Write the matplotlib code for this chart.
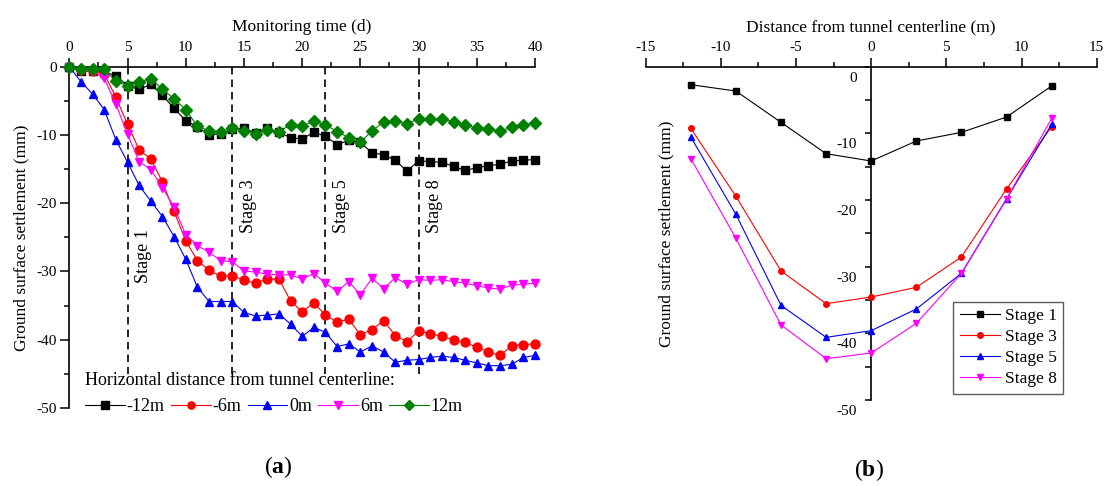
import matplotlib
matplotlib.use("Agg")
import matplotlib.pyplot as plt
from matplotlib.ticker import MultipleLocator
from matplotlib.transforms import ScaledTranslation

plt.rcParams["font.family"] = ["Liberation Serif", "DejaVu Serif"]
plt.rcParams["axes.unicode_minus"] = False
plt.rcParams["mathtext.fontset"] = "custom"
plt.rcParams["mathtext.rm"] = "Liberation Serif"
plt.rcParams["mathtext.bf"] = "Liberation Serif:bold"

# (a) settlement vs monitoring time, one series per horizontal distance
days = list(range(41))
settle_m12 = [0, -0.7, -0.6, -0.8, -1.3, -2.8, -3.3, -2.6, -4.2, -6.1, -7.9, -8.8, -10.0, -9.8,
              -9.2, -9.0, -9.7, -9.0, -9.6, -10.4, -10.6, -9.6, -10.2, -11.4, -10.8, -11.1, -12.6,
              -12.9, -13.7, -15.3, -13.8, -13.9, -14.0, -14.6, -15.2, -14.8, -14.5, -14.3, -13.8,
              -13.7, -13.6]
settle_m6 = [0, -0.5, -0.6, -1.0, -4.5, -8.4, -12.2, -13.5, -16.9, -21.2, -25.5, -28.4, -29.8,
             -30.7, -30.6, -31.3, -31.7, -31.1, -31.1, -34.3, -35.9, -34.6, -36.4, -37.4, -37.0,
             -39.3, -38.5, -37.2, -39.4, -40.3, -38.7, -39.1, -39.5, -40.0, -40.4, -41.1, -41.8,
             -42.3, -40.9, -40.7, -40.6]
settle_0 = [0, -2.2, -4.0, -6.3, -10.7, -14.0, -17.4, -19.7, -21.95, -24.9, -28.2, -32.3, -34.4,
            -34.4, -34.4, -36.0, -36.5, -36.4, -36.2, -37.7, -39.5, -38.2, -38.9, -41.0, -40.6,
            -41.8, -40.9, -41.8, -43.3, -43.0, -42.9, -42.6, -42.4, -42.6, -43.0, -43.4, -43.8,
            -43.8, -43.6, -42.6, -42.3]
settle_p6 = [0, -0.5, -0.6, -1.7, -5.5, -9.9, -13.9, -15.1, -17.7, -20.6, -24.6, -26.2, -27.2,
             -28.4, -28.6, -29.9, -30.1, -30.4, -30.5, -30.5, -31.1, -30.3, -31.7, -32.9, -31.5,
             -33.4, -31.0, -32.5, -30.9, -31.9, -31.2, -31.3, -31.2, -31.5, -31.7, -32.1, -32.4,
             -32.6, -32.0, -31.9, -31.7]
settle_p12 = [0, -0.35, -0.3, -0.4, -2.1, -2.8, -2.2, -1.75, -3.3, -4.7, -6.3, -8.7, -9.4, -9.5,
              -9.0, -9.4, -9.85, -9.3, -9.5, -8.5, -8.7, -8.0, -8.5, -9.5, -10.4, -11.1, -9.4,
              -8.1, -7.9, -8.4, -7.6, -7.7, -7.6, -8.05, -8.5, -9.0, -9.2, -9.4, -8.9, -8.5, -8.2]
distance_labels = ["-12m", "-6m", "0m", "6m", "12m"]
stage_days = [5, 14, 22, 30]
stage_names = ["Stage 1", "Stage 3", "Stage 5", "Stage 8"]

# (b) settlement trough per stage
offsets = [-12, -9, -6, -3, 0, 3, 6, 9, 12]
trough_s1 = [-2.7, -3.65, -8.35, -13.05, -14.15, -11.15, -9.85, -7.55, -2.9]
trough_s3 = [-9.25, -19.45, -30.65, -35.55, -34.55, -33.1, -28.55, -18.35, -9.0]
trough_s5 = [-10.55, -22.15, -35.8, -40.6, -39.6, -36.35, -31.0, -19.85, -8.65]
trough_s8 = [-13.8, -25.75, -38.75, -43.8, -42.95, -38.5, -31.0, -19.85, -7.75]

COLORS = ["black", "#ff0000", "#0000ff", "#ff00ff", "#008000"]
MARKERS = ["s", "o", "^", "v", "D"]

fig = plt.figure(figsize=(11.07, 4.86), dpi=100)
W, H = 1107, 486


def style_axis(ax):
    for side in ("bottom", "right"):
        ax.spines[side].set_visible(False)
    for side in ("top", "left"):
        ax.spines[side].set_linewidth(1.2)
    ax.xaxis.tick_top()
    ax.xaxis.set_label_position("top")


# ---- panel (a)
ax1 = fig.add_axes([69.3 / W, 1 - 408 / H, 465.7 / W, 341.3 / H])
style_axis(ax1)
series = [settle_m12, settle_m6, settle_0, settle_p6, settle_p12]
for vals, c, m, lab in zip(series, COLORS, MARKERS, distance_labels):
    ms = 6.4 if m != "D" else 5.8
    ax1.plot(days, vals, color=c, marker=m, markersize=ms, linewidth=0.8,
             markeredgecolor=c, label=lab, clip_on=False, zorder=3)

for d in stage_days:
    ax1.plot([d, d], [0, -45], color="black", linestyle=(0, (4.5, 3)), linewidth=1.2, zorder=2)
y_text = {"Stage 1": -31.7}
for d, name in zip(stage_days, stage_names):
    ax1.text(d + 1.35, y_text.get(name, -24.4), name, rotation=90, ha="center", va="bottom",
             fontsize=13)

ax1.set_xlim(0, 40)
ax1.set_ylim(-50, 0)
ax1.xaxis.set_major_locator(MultipleLocator(5))
ax1.xaxis.set_minor_locator(MultipleLocator(2.5))
ax1.yaxis.set_major_locator(MultipleLocator(10))
ax1.yaxis.set_minor_locator(MultipleLocator(5))
ax1.tick_params(which="major", direction="out", length=6.5, width=1.1, labelsize=11, pad=2.5)
ax1.tick_params(which="minor", direction="out", length=3.5, width=1.1)
ax1.set_xlabel("Monitoring time (d)", fontsize=12.5, labelpad=7)
ax1.set_ylabel("Ground surface settlement (mm)", fontsize=12.5)
ax1.yaxis.set_label_coords(-0.085, 0.5)

leg1 = ax1.legend(loc="upper left", bbox_to_anchor=(85 / W, 1 - 372 / H),
                  bbox_transform=fig.transFigure, ncol=5, frameon=False, fontsize=13,
                  title="Horizontal distance from tunnel centerline:", title_fontsize=13,
                  alignment="left", handlelength=2.2, handletextpad=0.1, columnspacing=0.35,
                  borderpad=0, borderaxespad=0)
for h in leg1.legend_handles:
    h.set_markersize(5.2)

# ---- panel (b)
ax2 = fig.add_axes([645.7 / W, 1 - 400 / H, 451 / W, 333.3 / H])
style_axis(ax2)
ax2.spines["left"].set_position(("data", 0))
troughs = [trough_s1, trough_s3, trough_s5, trough_s8]
for vals, c, m, name in zip(troughs, COLORS[:4], MARKERS[:4], stage_names):
    ax2.plot(offsets, vals, color=c, marker=m, markersize=4, linewidth=0.8,
             markeredgecolor=c, label=name, clip_on=False, zorder=3)
ax2.set_xlim(-15, 15)
ax2.set_ylim(-50, 0)
ax2.xaxis.set_major_locator(MultipleLocator(5))
ax2.xaxis.set_minor_locator(MultipleLocator(2.5))
ax2.set_yticks([0, -10, -20, -30, -40, -50])
ax2.yaxis.set_minor_locator(MultipleLocator(5))
ax2.tick_params(axis="x", which="major", direction="out", length=6.5, width=1.1,
                labelsize=11, pad=2.5)
ax2.tick_params(axis="x", which="minor", direction="out", length=3.5, width=1.1)
ax2.tick_params(axis="y", which="both", direction="out", length=4.5, width=1.1,
                labelsize=11, pad=6)
shift = ScaledTranslation(0, -10 / 100, fig.dpi_scale_trans)
for lbl in ax2.get_yticklabels():
    lbl.set_transform(lbl.get_transform() + shift)
ax2.set_xlabel("Distance from tunnel centerline (m)", fontsize=12.5, labelpad=7)
ax2.set_ylabel("Ground surface settlement (mm)", fontsize=12.5)
ax2.yaxis.set_label_coords(0.064, 0.5)

leg2 = ax2.legend(loc="upper left", bbox_to_anchor=(953 / W, 1 - 301.7 / H),
                  bbox_transform=fig.transFigure, frameon=True, fancybox=False, fontsize=12.5,
                  handlelength=2.3, handletextpad=0.3, labelspacing=0.27, borderpad=0.38,
                  borderaxespad=0)
leg2.get_frame().set_edgecolor("#333333")
leg2.get_frame().set_linewidth(1.0)

fig.text(278 / W, 1 - 467 / H, r"($\mathbf{a}$)", fontsize=17, ha="center", va="center")
fig.text(869 / W, 1 - 470 / H, r"($\mathbf{b}$)", fontsize=17, ha="center", va="center")

fig.savefig("out.png", dpi=100)
